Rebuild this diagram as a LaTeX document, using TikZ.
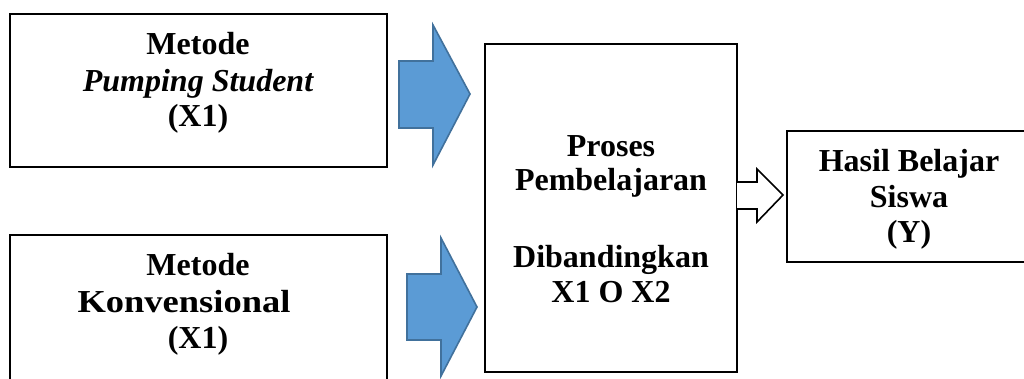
\documentclass[tikz,border=0pt]{standalone}
\usepackage{fontspec}
\setmainfont{Liberation Serif}
\begin{document}
\begin{tikzpicture}[x=1pt,y=-1pt,
  boxst/.style={draw=black,line width=1.6pt,fill=none},
  txt/.style={inner sep=0pt,anchor=base,font=\fontsize{32}{36}\selectfont\bfseries},
  bluearrow/.style={fill=blockblue,draw=blockedge,line width=1.6pt,line join=miter},
  whitearrow/.style={fill=white,draw=black,line width=1.6pt,line join=miter}]
\definecolor{blockblue}{HTML}{5B9BD5}
\definecolor{blockedge}{HTML}{41719C}
\clip (0,0) rectangle (1024,379);
\fill[white] (0,0) rectangle (1024,379);
% boxes
\draw[boxst] (10,14) rectangle (387,167);
\draw[boxst] (10,235) rectangle (387,420);
\draw[boxst] (485,44) rectangle (737,372);
\draw[boxst] (787,131) rectangle (1040,262);
% texts box 1
\node[txt] (m1a) at (198,55) {Metode};
\node[txt] (m1b) at (198,92) {\itshape Pumping Student};
\node[txt] (m1c) at (198,127) {(X1)};
% texts box 2
\node[txt] (m2a) at (198,275) {Metode};
\node[txt] (m2b) at (184,312) {\scalebox{1.14}[1]{Konvensional}};
\node[txt] (m2c) at (198,348) {(X1)};
% middle
\node[txt] (p1) at (611,157) {Proses};
\node[txt] (p2) at (611,191) {Pembelajaran};
\node[txt] (p3) at (611,267) {Dibandingkan};
\node[txt] (p4) at (611,302) {X1 O X2};
% right
\node[txt] (h1) at (909,172) {Hasil Belajar};
\node[txt] (h2) at (909,208) {Siswa};
\node[txt] (h3) at (909,243) {(Y)};
% blue block arrows
\draw[bluearrow] (399,61) -- (433,61) -- (433,25) -- (470,94) -- (433,165) -- (433,128) -- (399,128) -- cycle;
\draw[bluearrow] (407,274) -- (441,274) -- (441,238) -- (477,307) -- (441,376) -- (441,340) -- (407,340) -- cycle;
% white arrow
\draw[whitearrow] (737,182) -- (757,182) -- (757,169) -- (783,195) -- (757,222) -- (757,209) -- (737,209);
\end{tikzpicture}
\end{document}
